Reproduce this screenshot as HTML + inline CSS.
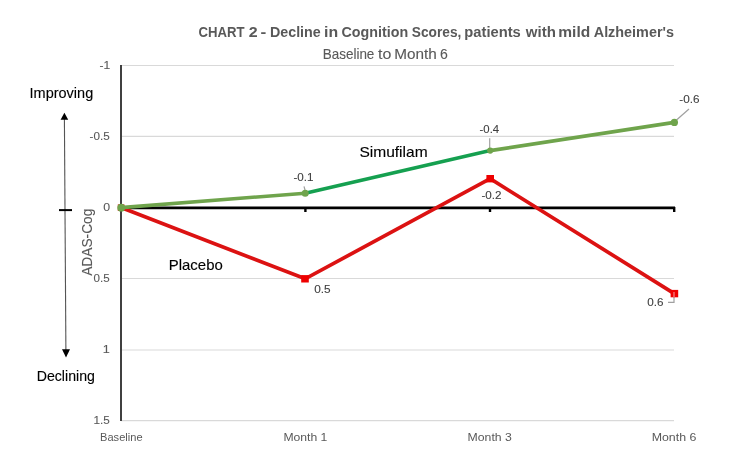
<!DOCTYPE html>
<html><head><meta charset="utf-8">
<style>
html,body{margin:0;padding:0;background:#fff;}
body{width:736px;height:469px;overflow:hidden;}
svg{display:block;}
text{font-family:"Liberation Sans",sans-serif;font-kerning:none;}
svg{will-change:transform;}
</style></head><body>
<svg width="736" height="469" viewBox="0 0 736 469">
<rect width="736" height="469" fill="#fff"/>
<text transform="translate(198.56,36.90) scale(0.9019,1)" font-size="14.60" font-weight="bold" fill="#595959">CHART</text>
<text transform="translate(248.75,36.90) scale(1.0954,1)" font-size="14.60" font-weight="bold" fill="#595959">2</text>
<text transform="translate(260.62,36.90) scale(1.1869,1)" font-size="14.60" font-weight="bold" fill="#595959">-</text>
<text transform="translate(269.94,36.90) scale(0.9790,1)" font-size="14.60" font-weight="bold" fill="#595959">Decline</text>
<text transform="translate(324.09,36.90) scale(1.0860,1)" font-size="14.60" font-weight="bold" fill="#595959">in</text>
<text transform="translate(341.51,36.90) scale(0.9789,1)" font-size="14.60" font-weight="bold" fill="#595959">Cognition</text>
<text transform="translate(411.80,36.90) scale(0.9405,1)" font-size="14.60" font-weight="bold" fill="#595959">Scores,</text>
<text transform="translate(464.33,36.90) scale(1.0089,1)" font-size="14.60" font-weight="bold" fill="#595959">patients</text>
<text transform="translate(525.84,36.90) scale(1.0307,1)" font-size="14.60" font-weight="bold" fill="#595959">with</text>
<text transform="translate(558.28,36.90) scale(1.0645,1)" font-size="14.60" font-weight="bold" fill="#595959">mild</text>
<text transform="translate(593.74,36.90) scale(0.9862,1)" font-size="14.60" font-weight="bold" fill="#595959">Alzheimer&#x27;s</text>
<text transform="translate(322.69,58.70) scale(0.9628,1)" font-size="14.00" fill="#595959" stroke="#595959" stroke-width="0.10">Baseline</text>
<text transform="translate(378.06,58.70) scale(1.1401,1)" font-size="14.00" fill="#595959" stroke="#595959" stroke-width="0.10">to</text>
<text transform="translate(394.34,58.70) scale(1.0935,1)" font-size="14.00" fill="#595959" stroke="#595959" stroke-width="0.10">Month</text>
<text transform="translate(440.08,58.70) scale(1.0062,1)" font-size="14.00" fill="#595959" stroke="#595959" stroke-width="0.10">6</text>

<g stroke="#d9d9d9" stroke-width="1.2">
<line x1="121" y1="65.5" x2="674" y2="65.5"/>
<line x1="121" y1="136.4" x2="674" y2="136.4"/>
<line x1="121" y1="278.5" x2="674" y2="278.5"/>
<line x1="121" y1="350" x2="674" y2="350"/>
<line x1="121" y1="420.6" x2="674" y2="420.6"/>
</g>
<line x1="121" y1="65" x2="121" y2="421" stroke="#404040" stroke-width="2"/>
<line x1="121" y1="207.8" x2="675" y2="207.8" stroke="#000" stroke-width="2.8"/>
<g stroke="#000" stroke-width="2.4">
<line x1="305.4" y1="207" x2="305.4" y2="212"/>
<line x1="490" y1="207" x2="490" y2="212"/>
<line x1="674.2" y1="207" x2="674.2" y2="212"/>
</g>
<text transform="translate(99.46,68.80) scale(1.0965,1)" font-size="11.00" fill="#595959" stroke="#595959" stroke-width="0.10">-1</text>
<text transform="translate(89.58,139.70) scale(1.0609,1)" font-size="11.00" fill="#595959" stroke="#595959" stroke-width="0.10">-0.5</text>
<text transform="translate(103.22,211.30) scale(1.1220,1)" font-size="11.00" fill="#595959" stroke="#595959" stroke-width="0.10">0</text>
<text transform="translate(93.55,281.70) scale(1.0556,1)" font-size="11.00" fill="#595959" stroke="#595959" stroke-width="0.10">0.5</text>
<text transform="translate(102.79,353.30) scale(1.1491,1)" font-size="11.00" fill="#595959" stroke="#595959" stroke-width="0.10">1</text>
<text transform="translate(93.51,424.10) scale(1.0649,1)" font-size="11.00" fill="#595959" stroke="#595959" stroke-width="0.10">1.5</text>

<text transform="translate(100.09,440.90) scale(0.9893,1)" font-size="11.20" fill="#595959">Baseline</text>
<text transform="translate(283.40,440.90) scale(1.0871,1)" font-size="11.20" fill="#595959">Month 1</text>
<text transform="translate(467.60,440.90) scale(1.0933,1)" font-size="11.20" fill="#595959">Month 3</text>
<text transform="translate(651.68,440.90) scale(1.1061,1)" font-size="11.20" fill="#595959">Month 6</text>

<line x1="64.4" y1="118" x2="65.9" y2="350" stroke="#555" stroke-width="1.1"/>
<polygon points="64.4,112.8 60.6,119.8 68.2,119.8" fill="#000"/>
<polygon points="66,357.4 62,349.2 70,349.2" fill="#000"/>
<line x1="59" y1="210.1" x2="72" y2="210.1" stroke="#000" stroke-width="2"/>
<text transform="translate(29.56,97.90) scale(1.0359,1)" font-size="14.00" fill="#000" stroke="#000" stroke-width="0.12">Improving</text>
<text transform="translate(36.74,380.60) scale(1.0102,1)" font-size="14.00" fill="#000" stroke="#000" stroke-width="0.12">Declining</text>
<text transform="translate(359.39,157.00) scale(1.1102,1)" font-size="14.00" fill="#000" stroke="#000" stroke-width="0.12">Simufilam</text>
<text transform="translate(168.77,269.60) scale(1.0684,1)" font-size="14.00" fill="#000" stroke="#000" stroke-width="0.12">Placebo</text>
<text transform="translate(92.30,275.83) rotate(-90) scale(0.9427,1)" font-size="14.60" fill="#595959" stroke="#595959" stroke-width="0.10">ADAS-Cog</text>

<g stroke="#a0a0a0" stroke-width="1.2" fill="none">
<line x1="304" y1="186.3" x2="305" y2="190"/>
<line x1="489.7" y1="138.3" x2="489.7" y2="149"/>
<line x1="689" y1="109" x2="676.5" y2="120"/>
<polyline points="674,296.5 674,302.3 668,302.3"/>
</g>
<polyline points="121,207.6 305.2,278.8 490.2,178.7 674.3,293.6" fill="none" stroke="#dc1212" stroke-width="3.7" stroke-linejoin="miter"/>
<g fill="#ee0000">
<rect x="301.2" y="275.1" width="7.6" height="7.4"/>
<rect x="486.4" y="175.0" width="7.6" height="7.4"/>
<rect x="670.6" y="289.9" width="7.6" height="7.4"/>
<rect x="117.8" y="204.4" width="6.6" height="6.6"/>
</g>
<line x1="674" y1="292" x2="674" y2="297" stroke="#f58a8a" stroke-width="1.2"/>
<line x1="121" y1="207.6" x2="305.2" y2="193.2" stroke="#6fa44c" stroke-width="3.6"/>
<line x1="305.2" y1="193.2" x2="490.2" y2="150.6" stroke="#15a050" stroke-width="3.6"/>
<line x1="490.2" y1="150.6" x2="674.4" y2="122.4" stroke="#6fa44c" stroke-width="3.6"/>
<g fill="#6fa44c">
<circle cx="121.2" cy="207.7" r="3.9"/>
<circle cx="305.2" cy="193.2" r="3.5"/>
<circle cx="490.2" cy="150.6" r="3.1"/>
<circle cx="674.4" cy="122.4" r="3.6"/>
</g>
<text transform="translate(293.48,180.70) scale(1.0598,1)" font-size="11.00" fill="#404040" stroke="#404040" stroke-width="0.10">-0.1</text>
<text transform="translate(479.60,132.70) scale(1.0307,1)" font-size="11.00" fill="#404040" stroke="#404040" stroke-width="0.10">-0.4</text>
<text transform="translate(481.38,198.70) scale(1.0607,1)" font-size="11.00" fill="#404040" stroke="#404040" stroke-width="0.10">-0.2</text>
<text transform="translate(679.28,102.60) scale(1.0677,1)" font-size="11.00" fill="#404040" stroke="#404040" stroke-width="0.10">-0.6</text>
<text transform="translate(314.24,292.60) scale(1.0764,1)" font-size="11.00" fill="#404040" stroke="#404040" stroke-width="0.10">0.5</text>
<text transform="translate(647.24,305.80) scale(1.0641,1)" font-size="11.00" fill="#404040" stroke="#404040" stroke-width="0.10">0.6</text>

</svg>
</body></html>
